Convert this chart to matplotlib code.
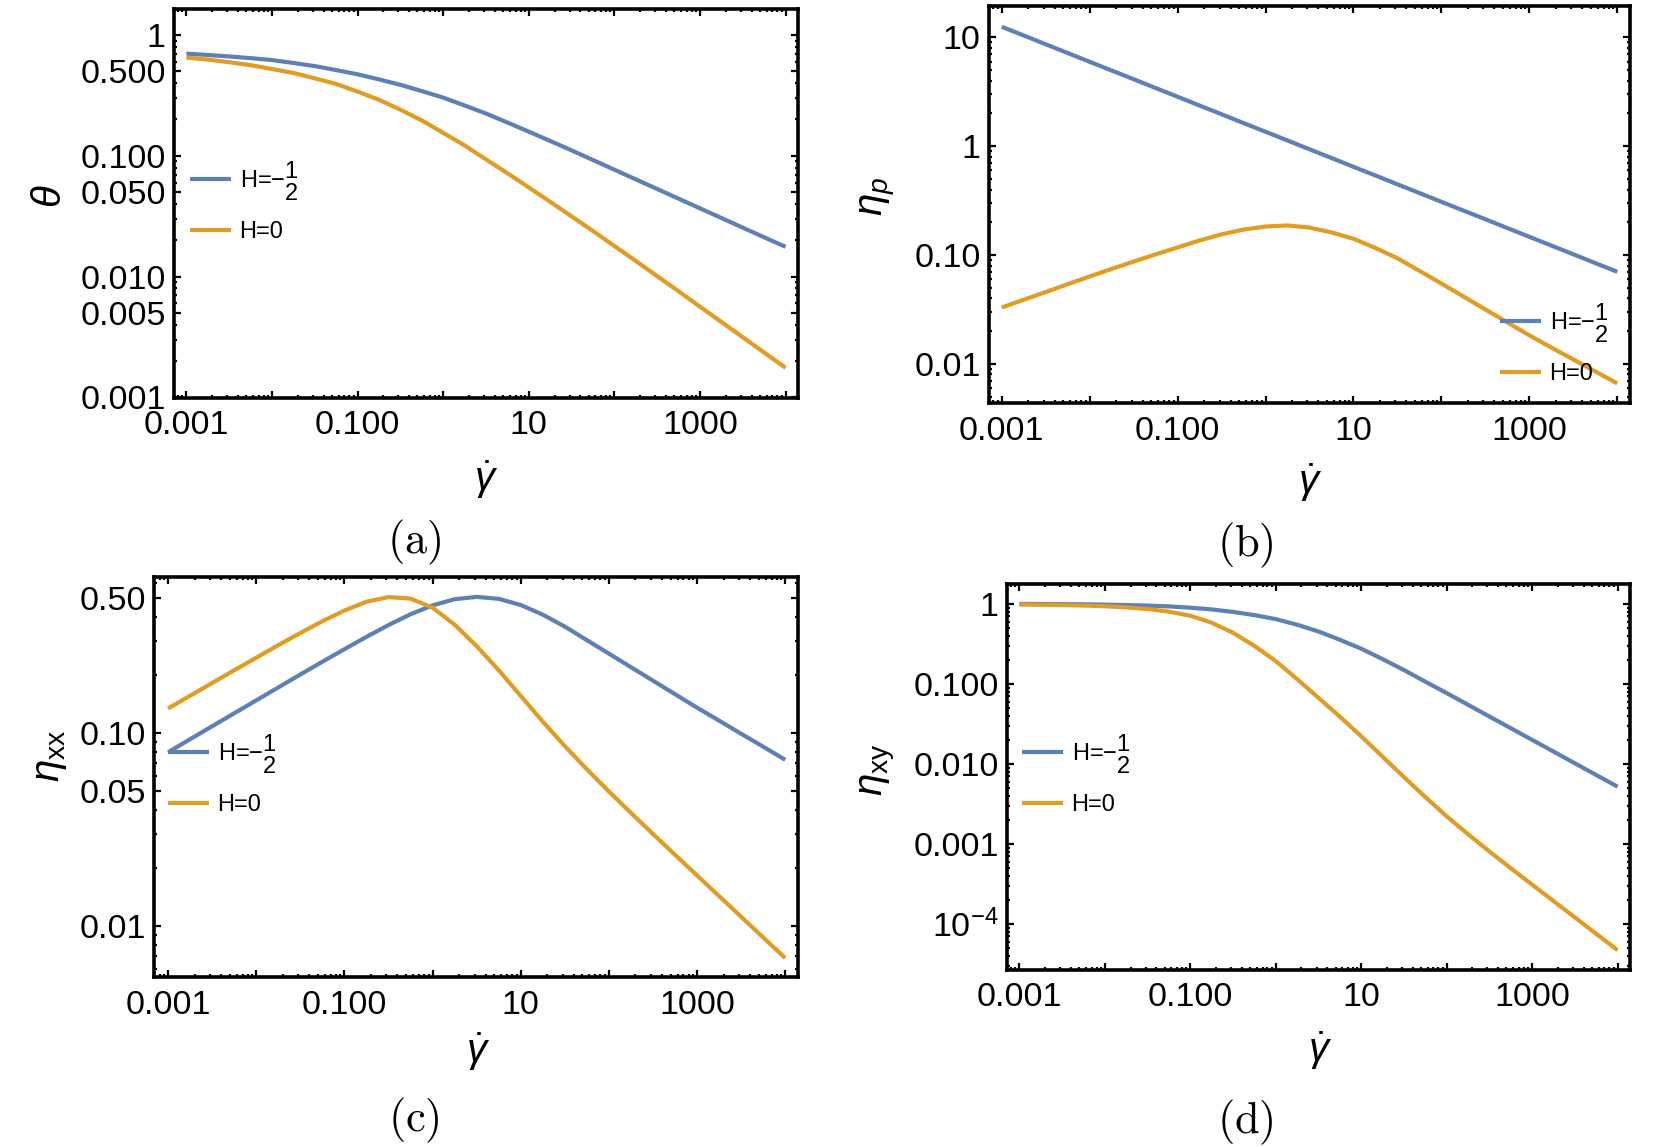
import matplotlib
matplotlib.use("Agg")
import matplotlib.pyplot as plt
from matplotlib.ticker import FixedLocator, FixedFormatter, LogLocator, NullFormatter
import numpy as np

plt.rcParams['font.family'] = ['Liberation Sans', 'DejaVu Sans']
plt.rcParams['mathtext.fontset'] = 'custom'
plt.rcParams['mathtext.rm'] = 'Liberation Sans'
plt.rcParams['mathtext.it'] = 'Liberation Sans:italic'
plt.rcParams['mathtext.bf'] = 'Liberation Sans:bold'
plt.rcParams['mathtext.sf'] = 'Liberation Sans'

# ---- data (y values given as log10) ----
log10_gamma_dot = [-3.0, -2.75, -2.5, -2.25, -2.0, -1.75, -1.5, -1.25, -1.0, -0.75, -0.5, -0.25, 0.0, 0.25,
                   0.5, 0.75, 1.0, 1.25, 1.5, 1.75, 2.0, 2.25, 2.5, 2.75, 3.0, 3.25, 3.5, 3.75, 4.0]

log_theta_Hm = [-0.154, -0.165, -0.177, -0.191, -0.207, -0.231, -0.257, -0.290, -0.325, -0.367, -0.412, -0.464,
                -0.518, -0.583, -0.650, -0.724, -0.800, -0.877, -0.955, -1.035, -1.115, -1.195, -1.275, -1.355,
                -1.435, -1.515, -1.595, -1.675, -1.754]
log_theta_H0 = [-0.186, -0.203, -0.225, -0.249, -0.281, -0.314, -0.358, -0.405, -0.468, -0.536, -0.618, -0.707,
                -0.810, -0.914, -1.030, -1.144, -1.262, -1.381, -1.502, -1.623, -1.747, -1.871, -1.997, -2.122,
                -2.250, -2.376, -2.503, -2.630, -2.756]

log_etap_Hm = [1.098, 1.018, 0.937, 0.857, 0.776, 0.696, 0.616, 0.535, 0.455, 0.374, 0.294, 0.213, 0.133, 0.053,
               -0.028, -0.108, -0.189, -0.269, -0.350, -0.430, -0.511, -0.591, -0.671, -0.752, -0.832, -0.913,
               -0.993, -1.074, -1.154]
log_etap_H0 = [-1.482, -1.411, -1.340, -1.268, -1.197, -1.128, -1.060, -0.994, -0.930, -0.866, -0.810, -0.766,
               -0.738, -0.728, -0.748, -0.792, -0.850, -0.935, -1.030, -1.145, -1.262, -1.381, -1.500, -1.619,
               -1.738, -1.850, -1.960, -2.070, -2.180]

log_etaxx_Hm = [-1.101, -1.033, -0.966, -0.899, -0.832, -0.765, -0.698, -0.632, -0.567, -0.503, -0.442, -0.386,
                -0.340, -0.308, -0.296, -0.306, -0.338, -0.388, -0.450, -0.520, -0.590, -0.660, -0.730, -0.800,
                -0.870, -0.937, -1.005, -1.072, -1.140]
log_etaxx_H0 = [-0.874, -0.808, -0.742, -0.676, -0.611, -0.546, -0.483, -0.422, -0.367, -0.321, -0.297, -0.305,
                -0.352, -0.440, -0.551, -0.676, -0.809, -0.942, -1.069, -1.189, -1.304, -1.415, -1.524, -1.632,
                -1.739, -1.846, -1.953, -2.060, -2.167]

log_etaxy_Hm = [0.0, -0.001, -0.003, -0.005, -0.009, -0.014, -0.021, -0.031, -0.047, -0.069, -0.100, -0.140,
                -0.190, -0.260, -0.345, -0.448, -0.560, -0.690, -0.827, -0.972, -1.115, -1.261, -1.408, -1.554,
                -1.700, -1.846, -1.993, -2.139, -2.285]
log_etaxy_H0 = [-0.008, -0.010, -0.014, -0.020, -0.029, -0.043, -0.064, -0.097, -0.148, -0.235, -0.360, -0.525,
                -0.715, -0.940, -1.175, -1.410, -1.655, -1.910, -2.165, -2.415, -2.655, -2.880, -3.095, -3.305,
                -3.510, -3.715, -3.920, -4.125, -4.330]

series_labels = [r'H=$-\genfrac{}{}{0}{0}{1}{2}$', 'H=0']

panels = [
    dict(Hm=log_theta_Hm, H0=log_theta_H0, ylabel=r'$\theta$',
         yticks=[1, 0.5, 0.1, 0.05, 0.01, 0.005, 0.001],
         yticklabels=['1', '0.500', '0.100', '0.050', '0.010', '0.005', '0.001'],
         ylim=(10**-3.006, 10**0.216), tag='(a)'),
    dict(Hm=log_etap_Hm, H0=log_etap_H0, ylabel=r'$\eta_p$',
         yticks=[10, 1, 0.1, 0.01],
         yticklabels=['10', '1', '0.10', '0.01'],
         ylim=(10**-2.36, 10**1.289), tag='(b)'),
    dict(Hm=log_etaxx_Hm, H0=log_etaxx_H0, ylabel=r'$\eta_{\mathrm{xx}}$',
         yticks=[0.5, 0.1, 0.05, 0.01],
         yticklabels=['0.50', '0.10', '0.05', '0.01'],
         ylim=(10**-2.265, 10**-0.193), tag='(c)'),
    dict(Hm=log_etaxy_Hm, H0=log_etaxy_H0, ylabel=r'$\eta_{\mathrm{xy}}$',
         yticks=[1, 0.1, 0.01, 0.001, 0.0001],
         yticklabels=['1', '0.100', '0.010', '0.001', r'$10^{-4}$'],
         ylim=(10**-4.577, 10**0.249), tag='(d)'),
]

W, H = 1661, 1147
fig = plt.figure(figsize=(W / 100, H / 100), dpi=100)

def fx(px):
    return px / W

def fy(py):
    return 1 - py / H

# frames in pixels: L, R, T, B
frames = [(174, 798, 9, 398), (989, 1630, 6, 403), (154, 798, 577, 977), (1007, 1630, 584, 970)]
ylabel_pos = [(50, 196), (877, 196), (50, 756), (877, 770)]
xlabel_pos = [(486, 480), (1310, 483), (478, 1052), (1320, 1051)]
tag_pos = [(414, 542), (1245, 545), (414, 1120), (1245, 1122)]
legend_pos = [(190, 201), (1500, 343), (168, 774), (1022, 774)]

blue = '#5E81B5'
orange = '#E19C24'
x = 10.0 ** np.array(log10_gamma_dot)

for i, p in enumerate(panels):
    L, R, T, B = frames[i]
    ax = fig.add_axes([fx(L), fy(B), (R - L) / W, (B - T) / H])
    ax.plot(x, 10.0 ** np.array(p['Hm']), color=blue, lw=3, label=series_labels[0],
            solid_capstyle='butt', solid_joinstyle='round')
    ax.plot(x, 10.0 ** np.array(p['H0']), color=orange, lw=3, label=series_labels[1],
            solid_capstyle='butt', solid_joinstyle='round')
    ax.set_xscale('log')
    ax.set_yscale('log')
    xl = (10**-3.145, 10**4.145) if i != 2 else (10**-3.16, 10**4.145)
    ax.set_xlim(*xl)
    ax.set_ylim(*p['ylim'])

    ax.xaxis.set_major_locator(FixedLocator([10.0**k for k in range(-3, 5)]))
    ax.xaxis.set_major_formatter(FixedFormatter(['0.001', '', '0.100', '', '10', '', '1000', '']))
    ax.xaxis.set_minor_locator(LogLocator(base=10, subs=np.arange(2, 10), numticks=30))
    ax.xaxis.set_minor_formatter(NullFormatter())

    ax.yaxis.set_major_locator(FixedLocator(p['yticks']))
    ax.yaxis.set_major_formatter(FixedFormatter(p['yticklabels']))
    ax.yaxis.set_minor_locator(LogLocator(base=10, subs=np.arange(1, 10), numticks=30))
    ax.yaxis.set_minor_formatter(NullFormatter())

    ax.tick_params(which='both', direction='in', top=True, right=True, width=1.6, colors='black')
    ax.tick_params(which='major', length=5, labelsize=24.5)
    ax.tick_params(axis='x', which='major', pad=9)
    ax.tick_params(axis='y', which='major', pad=6)
    ax.tick_params(which='minor', length=2.5)
    for s in ax.spines.values():
        s.set_linewidth(2.6)
        s.set_color('black')

    fig.text(fx(ylabel_pos[i][0]), fy(ylabel_pos[i][1]), p['ylabel'], rotation=90,
             ha='center', va='center', fontsize=29)
    fig.text(fx(xlabel_pos[i][0]), fy(xlabel_pos[i][1]), r'$\dot{\gamma}$',
             ha='center', va='center', fontsize=29)
    fig.text(fx(tag_pos[i][0]), fy(tag_pos[i][1]), r'$\mathrm{' + p['tag'] + '}$',
             ha='center', va='center', fontsize=32, math_fontfamily='cm')

    lx, ly = legend_pos[i]
    ax.legend(loc='center left', bbox_to_anchor=(fx(lx), fy(ly)), bbox_transform=fig.transFigure,
              frameon=False, fontsize=17, handlelength=1.75, handletextpad=0.35,
              borderpad=0, borderaxespad=0, labelspacing=0.8)

fig.savefig('out.png', dpi=100)
